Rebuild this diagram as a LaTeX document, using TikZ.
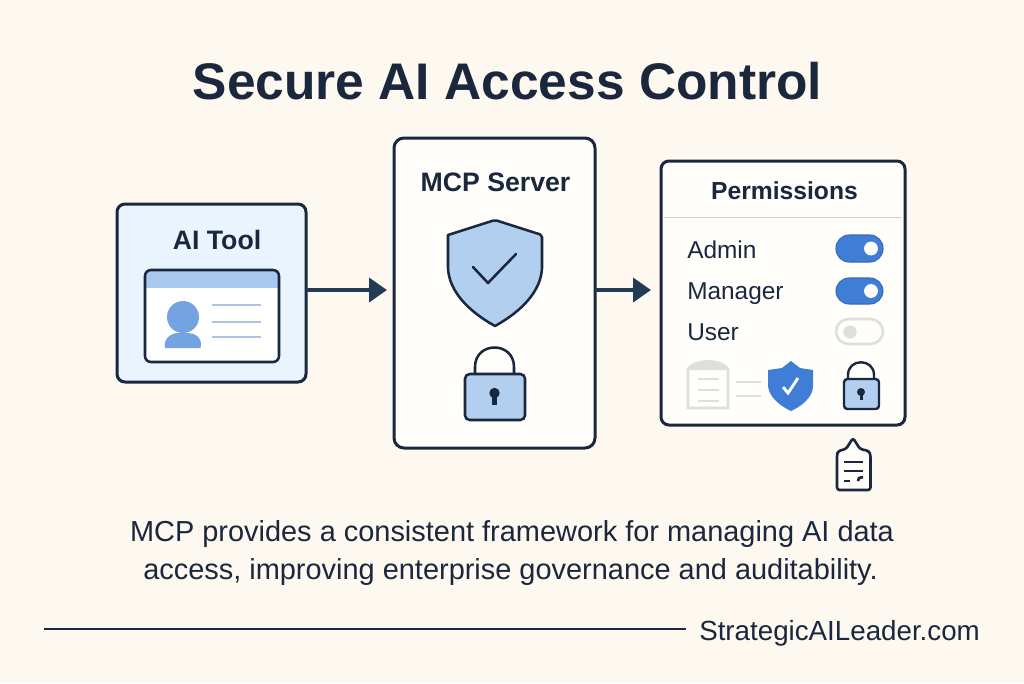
\documentclass[tikz,border=0pt]{standalone}
\usepackage{fontspec}
\setmainfont{Liberation Sans}
\usetikzlibrary{arrows.meta}
\definecolor{bgc}{HTML}{FDF8F0}
\definecolor{ink}{HTML}{1A273C}
\definecolor{arrowc}{HTML}{243B55}
\definecolor{paleblue}{HTML}{EAF4FE}
\definecolor{softblue}{HTML}{B3CFF0}
\definecolor{bandblue}{HTML}{A9C9F0}
\definecolor{midblue}{HTML}{74A3E4}
\definecolor{lineblue}{HTML}{AEC3E4}
\definecolor{strongblue}{HTML}{3F7DD6}
\definecolor{panelw}{HTML}{FFFEFB}
\definecolor{ghost}{HTML}{DEDEDB}
\tikzset{
  x=0.75pt,y=-0.75pt,
  panel/.style={draw=ink,line width=2.25pt,rounded corners=6pt,inner sep=0pt,outer sep=0pt},
  flow/.style={draw=arrowc,line width=3pt,-{Triangle[length=13.5pt,width=18pt]}},
  titletext/.style={font=\fontsize{38.6}{38.6}\selectfont\bfseries,text=ink,anchor=base},
  headtext/.style={font=\fontsize{20}{20}\selectfont\bfseries,text=ink,anchor=base},
  rowtext/.style={font=\fontsize{18.3}{18.3}\selectfont,text=ink,anchor=base west,inner sep=0pt},
  bodytext/.style={font=\fontsize{21.7}{21.7}\selectfont,text=ink,anchor=base},
  outline/.style={draw=ink,line width=1.9pt,line join=round},
  thinline/.style={draw=lineblue,line width=1.4pt},
  ghostline/.style={draw=ghost,line width=2.2pt},
  toggleon/.style={fill=strongblue,draw=strongblue!85!black,line width=0.8pt,rounded corners=9.9pt},
}
\begin{document}
\begin{tikzpicture}
\useasboundingbox[fill=bgc] (0,0) rectangle (1024,683);
% title
\node[titletext] (title) at (507.5,99) {Secure AI Access Control};
% AI tool
\node[panel,fill=paleblue,minimum width=141.75pt,minimum height=133.5pt] (aitool) at (211.5,293) {};
\node[headtext] (aitoollabel) at (217,249) {AI Tool};
\fill[bandblue,rounded corners=3pt] (146,271) rectangle (278,288);
\fill[bandblue] (146,280) rectangle (278,288);
\fill[white] (146,288) -- (278,288) -- (278,356) [rounded corners=4pt] -- (278,361) -- (146,361) [sharp corners] -- (146,356) -- cycle;
\node[draw=ink,line width=1.9pt,rounded corners=4.5pt,minimum width=100.5pt,minimum height=69pt,inner sep=0pt] (idcard) at (212,316) {};
\fill[midblue] (183,317) circle (12pt);
\fill[midblue] (165,348) .. controls (163,338) and (172,333) .. (178,333) -- (188,333) .. controls (195,333) and (203,338) .. (200.5,348) -- cycle;
\foreach \yy in {305,322,337} \draw[thinline] (212,\yy) -- (261,\yy);
% MCP server
\node[panel,fill=panelw,minimum width=150.75pt,minimum height=232.5pt,rounded corners=7.5pt] (server) at (494.5,293) {};
\node[headtext] (serverlabel) at (495.5,191) {MCP Server};
\draw[outline,fill=softblue] (495,220) [rounded corners=1.5pt] -- (542,235) [sharp corners] -- (542,268) .. controls (541,291) and (522,311) .. (495,326) .. controls (468,311) and (449,291) .. (448,268) -- (448,235) [rounded corners=1.5pt] -- cycle;
\draw[draw=ink,line width=1.9pt,line cap=round,line join=round] (473,267) -- (488,283) -- (516,254);
\draw[outline] (475,375) -- (475,367) .. controls (475,341) and (514,341) .. (514,367) -- (514,375);
\node[draw=ink,fill=softblue,line width=1.9pt,rounded corners=3.5pt,minimum width=45pt,minimum height=34.5pt,inner sep=0pt] (lockbig) at (495,397) {};
\fill[ink] (494.5,393) circle (3.9pt);
\fill[ink] (492,393) rectangle (497,405);
% Permissions
\node[panel,fill=panelw,minimum width=183pt,minimum height=198pt] (perm) at (783,293) {};
\draw[draw=black!18,line width=0.7pt] (664,217) -- (902,217);
\node[headtext,font=\fontsize{18.5}{18.5}\selectfont\bfseries] (permlabel) at (784.5,199) {Permissions};
\node[rowtext] (adminlabel) at (687,258) {Admin};
\node[rowtext] (managerlabel) at (687,299) {Manager};
\node[rowtext] (userlabel) at (687,340) {User};
\draw[toggleon] (836,235) rectangle (883,262);
\fill[panelw] (871,248.5) circle (5.2pt);
\draw[toggleon] (836,278) rectangle (883,304);
\fill[panelw] (871,291) circle (5.2pt);
\draw[draw=ghost,fill=panelw,line width=1.9pt,rounded corners=9.5pt] (836,319) rectangle (883,344);
\fill[ghost] (850,332) circle (5pt);
% ghost document
\draw[ghostline,fill=panelw] (688,408) -- (688,369) .. controls (696,359) and (720,359) .. (728,369) -- (728,408) -- cycle;
\fill[ghost] (688,370) .. controls (696,359) and (720,359) .. (728,370) -- cycle;
\foreach \yy in {379,390,401} \draw[draw=ghost,line width=2pt] (698,\yy) -- (719,\yy);
\draw[ghostline] (736,382) -- (761,382);
\draw[ghostline] (736,396) -- (761,396);
% small shield
\fill[strongblue] (791,361) -- (800,368) -- (813,370) -- (813,386) .. controls (813,397) and (802,406) .. (791,411) .. controls (780,406) and (769,397) .. (768,386) -- (768,370) -- (782,368) -- cycle;
\draw[white,line width=2.2pt] (783,387) -- (788,393) -- (798,378);
% small lock
\draw[outline,line width=1.8pt] (848,380) -- (848,375) .. controls (848,358) and (874,358) .. (874,375) -- (874,380);
\node[draw=ink,fill=softblue,line width=1.8pt,rounded corners=2.5pt,minimum width=26.25pt,minimum height=22.5pt,inner sep=0pt] (locksmall) at (861.5,394) {};
\fill[ink] (861,392) circle (3pt);
\fill[ink] (859.5,392) rectangle (862.5,399.5);
% clipboard
\draw[draw=ink,fill=panelw,line width=2pt,line join=round,rounded corners=2pt] (837,455) -- (838,451) -- (846,449) -- (853,438) -- (860,449) -- (869,451) -- (870.5,455) -- (870.5,490) -- (837,490) -- cycle;
\draw[draw=ink,line width=1.7pt] (844,462) -- (863,462);
\draw[draw=ink,line width=1.7pt] (844,471) -- (863,471);
\draw[draw=ink,line width=2.2pt] (844,481) -- (850,481);
\draw[draw=ink,line width=2pt] (858,481) -- (859,478) -- (863,477);
% connectors
\coordinate (flowrow) at (0,290);
\draw[flow,shorten >=5.25pt] (aitool.east |- flowrow) -- (server.west |- flowrow);
\draw[flow,shorten >=7.5pt] (server.east |- flowrow) -- (perm.west |- flowrow);
% text
\node[bodytext] (bodyone) at (512,541) {MCP provides a consistent framework for managing AI data};
\node[bodytext] (bodytwo) at (510.5,579) {access, improving enterprise governance and auditability.};
\coordinate (rulestart) at (44,629);
\node[bodytext,font=\fontsize{20.8}{20.8}\selectfont,anchor=base west,inner sep=0pt] (site) at (699,640) {StrategicAILeader.com};
\draw[draw=ink,line width=1.9pt] (rulestart) -- (rulestart -| 686,0);
\end{tikzpicture}
\end{document}
